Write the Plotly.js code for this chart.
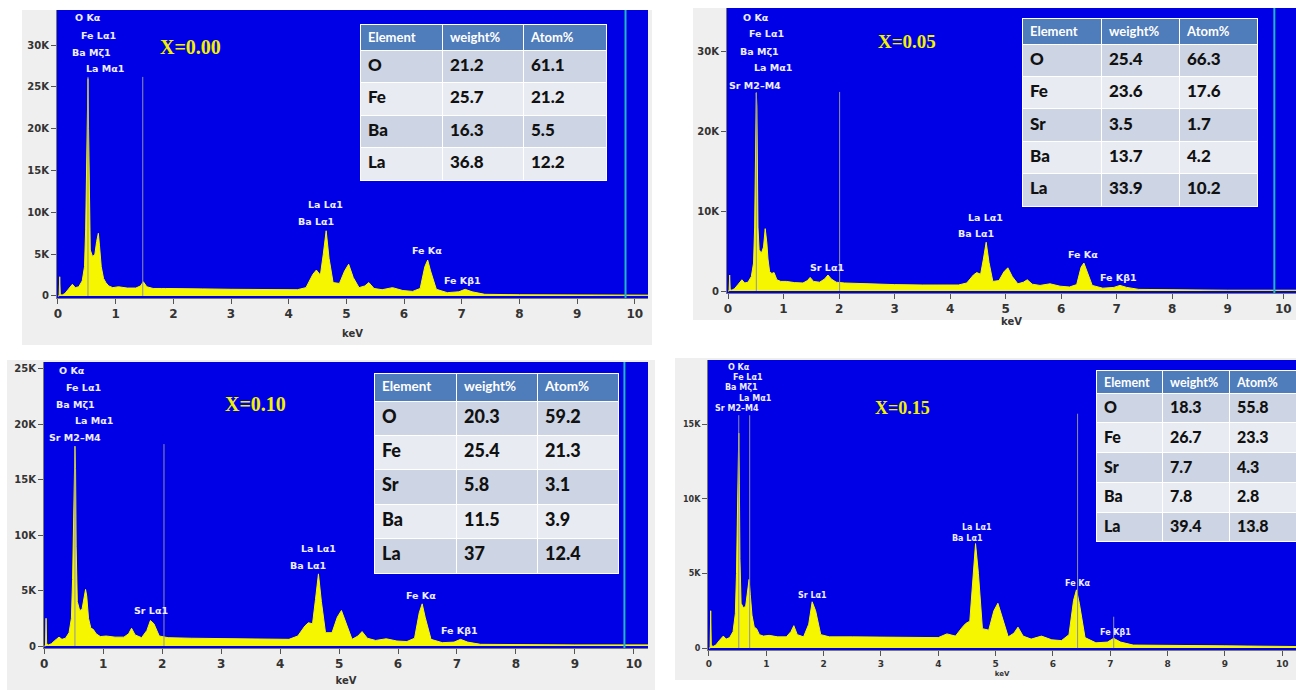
<!DOCTYPE html>
<html><head><meta charset="utf-8">
<script src="https://cdn.plot.ly/plotly-3.0.1.min.js"></script>
<style>html,body{margin:0;padding:0;background:#fff;}#chart{width:1296px;height:690px;}</style>
</head><body><div id="chart"></div>
<script>
// ---------- DATA ----------
const energy = [0,0.02,0.03,0.04,0.07,0.12,0.18,0.25,0.3,0.36,0.42,0.46,0.48,0.5,0.51,0.52,0.53,0.54,0.56,0.6,
  0.64,0.67,0.7,0.72,0.75,0.79,0.83,0.88,0.95,1.05,1.2,1.35,1.43,1.48,1.54,1.65,1.74,1.8,1.86,1.95,
  2.1,2.5,3.0,3.5,4.0,4.15,4.3,4.42,4.48,4.55,4.6,4.65,4.7,4.77,4.88,4.97,5.04,5.12,5.22,5.32,
  5.39,5.48,5.62,5.8,5.98,6.15,6.28,6.36,6.41,6.46,6.56,6.75,6.95,7.06,7.18,7.4,8.0,9.0,10.3];

// counts in thousands (K)
const counts_x000 = [0,0,2.3,0.2,0.1,0.3,0.8,1.4,1.0,1.1,1.8,3.5,8,16,24,26,20,12,5.5,4.7,
  5.0,6.5,7.5,6.0,3.5,2.1,1.6,1.2,1.0,1.1,0.95,0.95,1.2,1.7,1.1,0.9,0.95,0.9,0.9,0.9,
  0.9,0.85,0.8,0.75,0.7,0.75,1.0,2.6,3.1,2.5,5.0,7.8,4.5,1.6,1.5,3.0,3.8,2.2,1.0,1.2,
  1.6,0.9,0.75,1.0,0.65,0.55,0.9,3.5,4.3,3.0,0.8,0.4,0.5,0.8,0.5,0.2,0.15,0.1,0.1];
const counts_x005 = [0,0,2.0,0.2,0.1,0.3,0.8,1.4,1.0,1.1,1.8,3.5,8,17,24.8,23,15,8,5.2,4.7,
  5.5,7.8,6.0,4.0,2.4,2.2,2.3,1.4,1.2,1.2,1.05,1.0,1.3,1.7,1.2,1.1,1.5,2.0,1.5,1.1,
  1.0,0.9,0.8,0.75,0.7,0.75,1.0,2.0,2.3,2.1,4.0,6.1,3.6,1.2,1.3,2.4,2.9,1.8,0.9,1.1,
  1.4,0.85,0.7,0.9,0.6,0.5,0.8,3.0,3.5,2.6,0.7,0.35,0.45,0.7,0.45,0.2,0.15,0.1,0.1];
const counts_x010 = [0,0,2.5,0.2,0.1,0.2,0.5,0.8,0.6,0.7,1.2,2.5,6,12,16,18,16,9,4.0,3.2,
  3.3,4.2,5.1,4.5,2.5,1.6,1.5,1.1,0.85,0.9,0.8,0.8,1.1,1.6,1.0,0.75,1.4,2.3,2.0,0.9,
  0.75,0.7,0.65,0.6,0.55,0.6,0.9,1.8,2.1,2.0,4.2,6.5,4.0,1.2,1.2,2.6,3.2,2.0,0.6,0.9,
  1.3,0.7,0.5,0.65,0.45,0.4,0.7,3.0,3.8,2.6,0.6,0.3,0.35,0.6,0.35,0.15,0.12,0.1,0.1];
const counts_x015 = [0,0,2.5,0.2,0.1,0.2,0.5,0.8,0.6,0.7,1.1,2.3,5,10,14.4,14.4,11,6,3.0,2.7,
  2.8,3.8,4.6,3.6,2.2,1.4,1.3,0.9,0.8,0.85,0.75,0.75,1.1,1.5,0.9,0.75,1.6,3.1,2.5,0.9,
  0.75,0.75,0.72,0.7,0.7,0.95,0.8,1.4,1.65,1.8,4.5,7.0,5.0,1.3,1.2,2.5,3.0,2.0,0.75,1.0,
  1.4,0.8,0.6,0.8,0.55,0.5,0.9,3.2,3.9,3.0,0.7,0.35,0.4,0.65,0.4,0.2,0.2,0.15,0.1];

// marker lines [energy keV, height K]
const markers_x000 = [[0.52,26.2],[1.47,26.2]];
const markers_x005 = [[0.51,24.8],[2.01,24.9]];
const markers_x010 = [[0.52,18.0],[2.03,18.2]];
const markers_x015 = [[0.52,15.6],[0.71,15.6],[6.43,15.7],[7.06,2.1]];
const cursorEnergy = 9.84;

// tick labels
const xTicks = [0,1,2,3,4,5,6,7,8,9,10];
const xTickText = ['0','1','2','3','4','5','6','7','8','9','10'];
const yTicks_x000 = [0,5,10,15,20,25,30], yTickText_x000 = ['0','5K','10K','15K','20K','25K','30K'];
const yTicks_x005 = [0,10,20,30],          yTickText_x005 = ['0','10K','20K','30K'];
const yTicks_x010 = [0,5,10,15,20,25],     yTickText_x010 = ['0','5K','10K','15K','20K','25K'];
const yTicks_x015 = [0,5,10,15],           yTickText_x015 = ['0','5K','10K','15K'];

// composition tables
const tableHeader = ['Element','weight%','Atom%'];
const elements_x000 = ['O','Fe','Ba','La'];
const weight_x000 = ['21.2','25.7','16.3','36.8'];
const atom_x000 = ['61.1','21.2','5.5','12.2'];
const elements_x005 = ['O','Fe','Sr','Ba','La'];
const weight_x005 = ['25.4','23.6','3.5','13.7','33.9'];
const atom_x005 = ['66.3','17.6','1.7','4.2','10.2'];
const elements_x010 = ['O','Fe','Sr','Ba','La'];
const weight_x010 = ['20.3','25.4','5.8','11.5','37'];
const atom_x010 = ['59.2','21.3','3.1','3.9','12.4'];
const elements_x015 = ['O','Fe','Sr','Ba','La'];
const weight_x015 = ['18.3','26.7','7.7','7.8','39.4'];
const atom_x015 = ['55.8','23.3','4.3','2.8','13.8'];

const sampleLabels = ['X=0.00','X=0.05','X=0.10','X=0.15'];

// ---------- LAYOUT HELPERS ----------
const W = 1296, H = 690;
const px = v => v / W;
const py = v => 1 - v / H;

const BLUE = '#0000e6', YEL = '#f6f600', GRAYLINE = '#9090a8';

const panels = [
  {counts: counts_x000, markers: markers_x000, cursor: true,
   xd:[57,648], yd:[10,298], xr:[-0.017,10.23], yr:[-0.24,34.2],
   yt:yTicks_x000, ytt:yTickText_x000, frame:[22,10,652,345], standoff:9,
   xfs:12, yfs:10, lfs:9.5,
   table:{el:elements_x000, w:weight_x000, a:atom_x000, x:[360,606], top:24, hh:26, rh:32.5, cw:[82,81,83], hfs:13, cfs:17},
   sample:[190,47,20],
   labels:[['O Kα',88,18],['Fe Lα1',98,35],['Ba Mζ1',91,52],['La Mα1',105,69],
           ['La Lα1',325,204],['Ba Lα1',316,221],['Fe Kα',427,251],['Fe Kβ1',463,280]]},
  {counts: counts_x005, markers: markers_x005, cursor: true,
   xd:[727,1296], yd:[8,293], xr:[-0.018,10.23], yr:[-0.25,35.4],
   yt:yTicks_x005, ytt:yTickText_x005, frame:[693,8,1296,320], standoff:2,
   xfs:12, yfs:10, lfs:9.5,
   table:{el:elements_x005, w:weight_x005, a:atom_x005, x:[1022,1257], top:18, hh:26, rh:32.4, cw:[79,78,78], hfs:13, cfs:17},
   sample:[907,42,19],
   labels:[['O Kα',756,18],['Fe Lα1',766,34],['Ba Mζ1',759,51],['La Mα1',773,68],['Sr M2–M4',755,85],
           ['Sr Lα1',827,267],['La Lα1',985,217],['Ba Lα1',976,233],['Fe Kα',1083,255],['Fe Kβ1',1118,277]]},
  {counts: counts_x010, markers: markers_x010, cursor: true,
   xd:[44,648], yd:[362,648], xr:[-0.005,10.24], yr:[-0.18,25.6],
   yt:yTicks_x010, ytt:yTickText_x010, frame:[7,360,655,690], standoff:6,
   xfs:12, yfs:10, lfs:9.5,
   table:{el:elements_x010, w:weight_x010, a:atom_x010, x:[374,618], top:373, hh:28, rh:34.4, cw:[82,81,81], hfs:13.5, cfs:18},
   sample:[255,404,20],
   labels:[['O Kα',72,370],['Fe Lα1',83,387],['Ba Mζ1',75,404],['La Mα1',94,421],['Sr M2–M4',75,437],
           ['Sr Lα1',151,610],['La Lα1',318,548],['Ba Lα1',308,565],['Fe Kα',421,595],['Fe Kβ1',459,630]]},
  {counts: counts_x015, markers: markers_x015, cursor: false,
   xd:[708,1296], yd:[360,650], xr:[-0.017,10.24], yr:[-0.13,19.3],
   yt:yTicks_x015, ytt:yTickText_x015, frame:[675,358,1296,680], standoff:3,
   xfs:9, yfs:8, lfs:8,
   table:{el:elements_x015, w:weight_x015, a:atom_x015, x:[1096,1296], top:370, hh:23, rh:29.8, cw:[66,67,67], hfs:12.5, cfs:16},
   sample:[902,408,18],
   labels:[['O Kα',739,367],['Fe Lα1',748,377],['Ba Mζ1',741,387],['La Mα1',755,398],['Sr M2–M4',737,408],
           ['Sr Lα1',812,595],['La Lα1',977,527],['Ba Lα1',967,538],['Fe Kα',1078,583],['Fe Kβ1',1115,632]]}
];

const traces = [];
const shapes = [];
const annotations = [];
const layout = {
  width: W, height: H,
  margin: {l:0, r:0, t:0, b:0},
  paper_bgcolor: '#ffffff',
  plot_bgcolor: BLUE,
  showlegend: false,
  hovermode: false
};

panels.forEach((p, i) => {
  const n = i + 1;
  const xa = 'x' + (n === 1 ? '' : n), ya = 'y' + (n === 1 ? '' : n);
  const xk = 'xaxis' + (n === 1 ? '' : n), yk = 'yaxis' + (n === 1 ? '' : n);

  shapes.push({type:'rect', xref:'paper', yref:'paper', layer:'below',
    x0:px(p.frame[0]), x1:px(p.frame[2]), y0:py(p.frame[3]), y1:py(p.frame[1]),
    fillcolor:'#efefef', line:{width:0}});
  shapes.push({type:'rect', xref: xa + ' domain', yref: ya + ' domain', layer:'below',
    x0:0, x1:1, y0:0, y1:1, fillcolor:BLUE, line:{width:0}});

  traces.push({type:'scatter', mode:'lines', x: energy, y: p.counts, xaxis: xa, yaxis: ya,
    fill:'tozeroy', fillcolor: YEL, line:{color: YEL, width:1}, hoverinfo:'skip'});

  p.markers.forEach(m => {
    traces.push({type:'scatter', mode:'lines', x:[m[0], m[0]], y:[0, m[1]], xaxis: xa, yaxis: ya,
      line:{color: GRAYLINE, width:1}, hoverinfo:'skip'});
  });
  if (p.cursor) {
    traces.push({type:'scatter', mode:'lines', x:[cursorEnergy, cursorEnergy], y:[p.yr[0], p.yr[1]],
      xaxis: xa, yaxis: ya, line:{color:'#22b4c4', width:2}, hoverinfo:'skip'});
  }

  layout[xk] = {domain:[px(p.xd[0]), px(p.xd[1])], range:p.xr, anchor: ya,
    tickvals:xTicks, ticktext:xTickText, ticks:'outside', ticklen:5, tickcolor:'#555', tickwidth:1,
    showline:true, linecolor:'#777', linewidth:1, showgrid:false, zeroline:false, automargin:false,
    tickfont:{family:'DejaVu Sans', size:p.xfs, color:'#333', weight:'bold'},
    title:{text:'keV', standoff:p.standoff, font:{family:'DejaVu Sans', size:p.xfs - 2, color:'#333', weight:'bold'}}};
  layout[yk] = {domain:[py(p.yd[1]), py(p.yd[0])], range:p.yr, anchor: xa,
    tickvals:p.yt, ticktext:p.ytt, ticks:'outside', ticklen:5, tickcolor:'#555', tickwidth:1,
    showline:true, linecolor:'#777', linewidth:1, showgrid:false, zeroline:false, automargin:false,
    tickfont:{family:'DejaVu Sans', size:p.yfs, color:'#333', weight:'bold'}};

  const t = p.table;
  const dark = '#cdd4e3', light = '#e8ebf2';
  const rowColors = t.el.map((_, k) => k % 2 === 0 ? dark : light);
  const nRows = t.el.length;
  traces.push({type:'table',
    domain:{x:[px(t.x[0]), px(t.x[1])], y:[py(t.top + t.hh + 36 * nRows + 30), py(t.top)]},
    columnwidth: t.cw,
    header:{values: tableHeader, align:'left', height:t.hh,
      fill:{color:'#4f7cba'}, line:{color:'#ffffff', width:1},
      font:{family:'Lato', size:t.hfs, color:'#ffffff', weight:'bold'}},
    cells:{values:[t.el, t.w, t.a], align:'left', height:t.rh,
      fill:{color:[rowColors, rowColors, rowColors]}, line:{color:'#ffffff', width:1},
      font:{family:'Lato', size:t.cfs, color:'#111111', weight:900}}
  });

  annotations.push({xref:'paper', yref:'paper', x:px(p.sample[0]), y:py(p.sample[1]),
    text: '<b>' + sampleLabels[i] + '</b>', showarrow:false, xanchor:'center', yanchor:'middle',
    font:{family:'Liberation Serif', size:p.sample[2], color:'#f2f200'}});
  p.labels.forEach(l => {
    annotations.push({xref:'paper', yref:'paper', x:px(l[1]), y:py(l[2]), text:'<b>' + l[0] + '</b>',
      showarrow:false, xanchor:'center', yanchor:'middle',
      font:{family:'DejaVu Sans', size:p.lfs, color:'#eeeeff'}});
  });
});

layout.shapes = shapes;
layout.annotations = annotations;

Plotly.newPlot('chart', traces, layout, {displayModeBar:false, staticPlot:true});
</script>
</body></html>
